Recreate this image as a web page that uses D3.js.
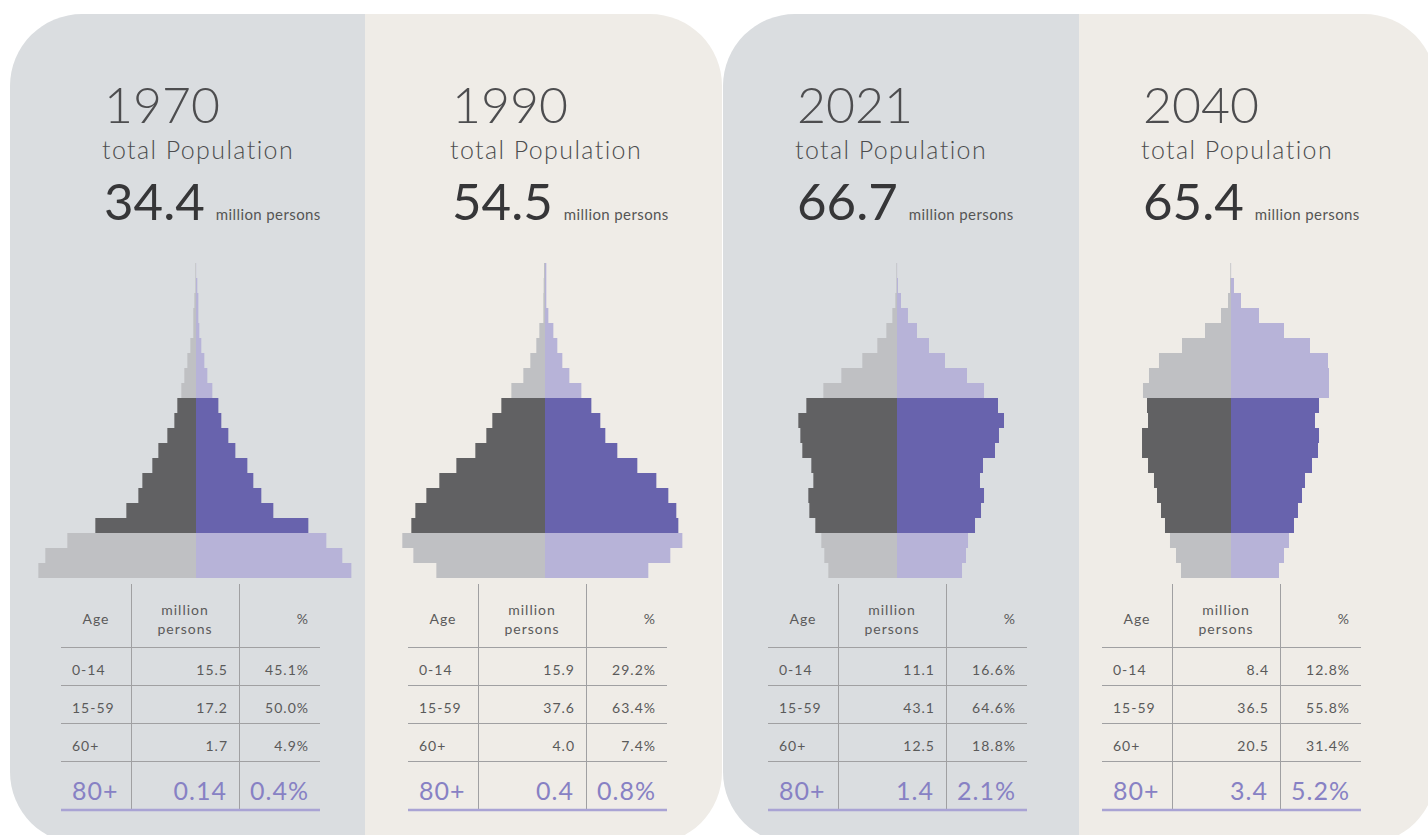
<!DOCTYPE html>
<html lang="en">
<head>
    <meta charset="UTF-8">
    <title>Population pyramids 1970-2040</title>
    <style>
        body {
            margin: 0;
            background: #fff;
            font-family: Lato, "Open Sans", sans-serif;
        }
        .cell { fill: #5a5a5a; font-size: 14px; letter-spacing: 1px; }
        .big { fill: #8781c4; font-size: 25px; letter-spacing: 1px; }
    </style>
</head>
<body>
<svg id="chart"></svg>

<script src="https://d3js.org/d3.v7.min.js"></script>
<script>
    // Data
    const years = ["1970", "1990", "2021", "2040"];
    const totals = [34.4, 54.5, 66.7, 65.4];

    const ageGroups = ["0-4", "5-9", "10-14", "15-19", "20-24", "25-29", "30-34", "35-39", "40-44", "45-49",
        "50-54", "55-59", "60-64", "65-69", "70-74", "75-79", "80-84", "85-89", "90-94", "95-99", "100+"];

    // thousand persons (youngest first)
    const male1970 = [2877, 2750, 2348, 1837, 1271, 1052, 979, 797, 687, 523, 395, 341, 268, 213, 158, 103, 49, 49, 30, 12, 12];
    const female1970 = [2835, 2670, 2378, 2050, 1411, 1192, 1046, 937, 718, 590, 462, 408, 298, 207, 152, 97, 61, 43, 43, 24, 3];
    const male1990 = [2302, 2789, 3023, 2832, 2747, 2514, 2239, 1878, 1476, 1243, 1116, 925, 713, 459, 311, 184, 120, 35, 35, 28, 21];
    const female1990 = [2189, 2655, 2910, 2825, 2782, 2613, 2359, 1956, 1532, 1278, 1172, 982, 770, 516, 367, 261, 177, 71, 28, 28, 28];
    const male2021 = [1738, 1840, 1916, 2068, 2219, 2245, 2118, 2169, 2397, 2447, 2498, 2295, 1865, 1409, 878, 498, 270, 118, 42, 17, 17];
    const female2021 = [1646, 1747, 1798, 1975, 2127, 2203, 2101, 2177, 2481, 2582, 2709, 2557, 2203, 1772, 1215, 810, 506, 278, 101, 25, 3];
    const male2040 = [1241, 1365, 1514, 1638, 1737, 1836, 1911, 2059, 2208, 2208, 2059, 2084, 2184, 2035, 1787, 1216, 645, 248, 74, 25, 17];
    const female2040 = [1191, 1315, 1439, 1563, 1662, 1762, 1836, 2010, 2159, 2184, 2084, 2184, 2432, 2432, 2407, 1960, 1315, 695, 248, 74, 3];

    const males = [male1970, male1990, male2021, male2040];
    const females = [female1970, female1990, female2021, female2040];

    const tableAges = ["0-14", "15-59", "60+"];
    const millions1970 = [15.5, 17.2, 1.7];
    const millions1990 = [15.9, 37.6, 4.0];
    const millions2021 = [11.1, 43.1, 12.5];
    const millions2040 = [8.4, 36.5, 20.5];
    const percent1970 = [45.1, 50.0, 4.9];
    const percent1990 = [29.2, 63.4, 7.4];
    const percent2021 = [16.6, 64.6, 18.8];
    const percent2040 = [12.8, 55.8, 31.4];
    const millionsByYear = [millions1970, millions1990, millions2021, millions2040];
    const percentByYear = [percent1970, percent1990, percent2021, percent2040];

    const over80Millions = [0.14, 0.4, 1.4, 3.4];
    const over80Percent = [0.4, 0.8, 2.1, 5.2];

    // Layout
    const width = 1428, height = 835;
    const panelX = [10, 365, 723, 1079];
    const panelW = [355, 357, 356, 357];
    const panelFill = ["#dadde0", "#efece7", "#dadde0", "#efece7"];
    const centerX = [196, 545, 897, 1231];
    const headerX = [104, 452, 797, 1143];
    const tableX = [61, 408, 768, 1102];
    const pxPerMillion = [54.8, 47.2, 39.5, 40.3];

    const svg = d3.select("#chart")
        .attr("width", width)
        .attr("height", height);

    // rounded backgrounds, two panels per card
    const cards = [[10, 712], [723, 713]];
    const defs = svg.append("defs");
    cards.forEach((c, i) => {
        defs.append("clipPath").attr("id", "card" + i)
            .append("rect")
            .attr("x", c[0]).attr("y", 14)
            .attr("width", c[1]).attr("height", 830)
            .attr("rx", 72).attr("ry", 72);
    });

    panelX.forEach((x, i) => {
        svg.append("rect")
            .attr("clip-path", `url(#card${i < 2 ? 0 : 1})`)
            .attr("x", x).attr("y", 0)
            .attr("width", panelW[i]).attr("height", height)
            .attr("fill", panelFill[i]);
    });

    const y = d3.scaleBand()
        .domain(ageGroups)
        .range([578, 263]);

    const fmt = v => Number.isInteger(Math.round(v * 100) / 10) ? v.toFixed(1) : v.toFixed(2);

    function barColor(side, i) {
        const working = i >= 3 && i <= 11;
        if (side === "m") return working ? "#616163" : "#bfc0c3";
        return working ? "#6863ad" : "#b7b3d8";
    }

    years.forEach((year, p) => {
        const g = svg.append("g");

        // header
        g.append("text")
            .attr("x", headerX[p]).attr("y", 123)
            .attr("fill", "#4d4d4f")
            .style("font-size", "50px")
            .style("font-weight", 300)
            .text(year);

        g.append("text")
            .attr("x", headerX[p] - 2).attr("y", 159)
            .attr("fill", "#4d4d4f")
            .style("font-size", "25px")
            .style("font-weight", 300)
            .style("letter-spacing", "1.4px")
            .text("total Population");

        const num = g.append("text")
            .attr("x", headerX[p]).attr("y", 220)
            .attr("fill", "#363638")
            .style("font-size", "51px")
            .text(totals[p].toFixed(1));

        g.append("text")
            .attr("x", headerX[p] + num.node().getComputedTextLength() + 11).attr("y", 220)
            .attr("fill", "#555")
            .style("font-size", "15px")
            .style("letter-spacing", "0.4px")
            .text("million persons");

        // pyramid
        const x = d3.scaleLinear()
            .domain([0, 1000])
            .range([0, pxPerMillion[p]]);

        g.selectAll(".male")
            .data(males[p])
            .join("rect")
            .attr("class", "male")
            .attr("x", d => centerX[p] - x(d))
            .attr("y", (d, i) => y(ageGroups[i]))
            .attr("width", d => x(d))
            .attr("height", y.bandwidth())
            .attr("fill", (d, i) => barColor("m", i));

        g.selectAll(".female")
            .data(females[p])
            .join("rect")
            .attr("class", "female")
            .attr("x", centerX[p])
            .attr("y", (d, i) => y(ageGroups[i]))
            .attr("width", d => x(d))
            .attr("height", y.bandwidth())
            .attr("fill", (d, i) => barColor("f", i));

        // table
        const tx = tableX[p];
        const t = svg.append("g").attr("transform", `translate(${tx},0)`);
        const line = "#a0a0a2";

        [70.5, 178.5].forEach(v => {
            t.append("line")
                .attr("x1", v).attr("x2", v)
                .attr("y1", 584).attr("y2", 809)
                .attr("stroke", line);
        });
        [647.5, 685.5, 723.5, 761.5].forEach(v => {
            t.append("line")
                .attr("x1", 0).attr("x2", 259)
                .attr("y1", v).attr("y2", v)
                .attr("stroke", line);
        });
        t.append("line")
            .attr("x1", 0).attr("x2", 259)
            .attr("y1", 810).attr("y2", 810)
            .attr("stroke", "#a9a3d4")
            .attr("stroke-width", 2.5);

        t.append("text").attr("class", "cell")
            .attr("x", 35).attr("y", 624).attr("text-anchor", "middle").text("Age");
        t.append("text").attr("class", "cell")
            .attr("x", 124).attr("y", 615).attr("text-anchor", "middle").text("million");
        t.append("text").attr("class", "cell")
            .attr("x", 124).attr("y", 634).attr("text-anchor", "middle").text("persons");
        t.append("text").attr("class", "cell")
            .attr("x", 248).attr("y", 624).attr("text-anchor", "end").text("%");

        tableAges.forEach((a, r) => {
            const by = 675 + r * 38;
            t.append("text").attr("class", "cell")
                .attr("x", 11).attr("y", by).text(a);
            t.append("text").attr("class", "cell")
                .attr("x", 167).attr("y", by).attr("text-anchor", "end")
                .text(fmt(millionsByYear[p][r]));
            t.append("text").attr("class", "cell")
                .attr("x", 248).attr("y", by).attr("text-anchor", "end")
                .text(percentByYear[p][r].toFixed(1) + "%");
        });

        t.append("text").attr("class", "big")
            .attr("x", 11).attr("y", 800).text("80+");
        t.append("text").attr("class", "big")
            .attr("x", 166).attr("y", 800).attr("text-anchor", "end")
            .text(fmt(over80Millions[p]));
        t.append("text").attr("class", "big")
            .attr("x", 248).attr("y", 800).attr("text-anchor", "end")
            .text(over80Percent[p].toFixed(1) + "%");
    });
</script>
</body>
</html>
